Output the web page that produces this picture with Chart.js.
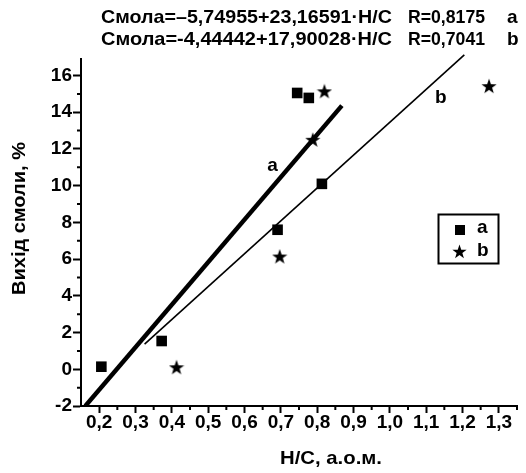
<!DOCTYPE html>
<html>
<head>
<meta charset="utf-8">
<script src="https://cdn.jsdelivr.net/npm/chart.js@4.4.1/dist/chart.umd.min.js"></script>
<style>
  html, body { margin: 0; padding: 0; background: #fff; }
  #wrap { width: 526px; height: 473px; }
</style>
</head>
<body>
<div id="wrap"><canvas id="chart" width="526" height="473"></canvas></div>
<script>
// measured points, series a (squares) and b (stars)
const aX = [0.206, 0.372, 0.691, 0.813, 0.745, 0.777];
const aY = [0.14, 1.54, 7.6, 10.1, 15.05, 14.78];
const bX = [0.413, 0.697, 0.788, 0.82, 1.273];
const bY = [0.11, 6.14, 12.5, 15.14, 15.42];

// regression lines as printed on the chart
const fitA = { b0: -5.74955, b1: 23.16591, r: "0,8175" };
const fitB = { b0: -4.44442, b1: 17.90028, r: "0,7041" };
const fitAX = [0.162, 0.868];
const fitBX = [0.325, 1.205];

const xTicks = [0.2, 0.3, 0.4, 0.5, 0.6, 0.7, 0.8, 0.9, 1.0, 1.1, 1.2, 1.3];
const yTicks = [-2, 0, 2, 4, 6, 8, 10, 12, 14, 16];

const FONT = "'Liberation Sans', Arial, sans-serif";

const toPts = (xs, ys) => xs.map((x, i) => ({ x: x, y: ys[i] }));
const fitPts = (fit, xs) => xs.map(x => ({ x: x, y: fit.b0 + fit.b1 * x }));
const comma = v => v.toFixed(1).replace(".", ",");
const fmtNum = v => String(v).replace(".", ",");

// filled five point star for series b
function makeStar(size) {
  const c = document.createElement("canvas");
  c.width = size; c.height = size;
  const g = c.getContext("2d");
  const cx = size / 2, cy = size / 2 + 0.6, ro = size / 2, ri = ro * 0.4;
  g.beginPath();
  for (let i = 0; i < 10; i++) {
    const r = i % 2 ? ri : ro;
    const a = -Math.PI / 2 + i * Math.PI / 5;
    g.lineTo(cx + r * Math.cos(a), cy + r * Math.sin(a));
  }
  g.closePath();
  g.fillStyle = "#000";
  g.fill();
  return c;
}
const star = makeStar(16);
const starSmall = makeStar(15);

// draw text stretched to a given width (the original font is a bit wide)
function fitText(ctx, text, x, y, w) {
  const m = ctx.measureText(text).width;
  ctx.save();
  ctx.translate(x, y);
  ctx.scale(w / m, 1);
  ctx.fillText(text, 0, 0);
  ctx.restore();
}

const extras = {
  id: "extras",
  afterDraw(chart) {
    const ctx = chart.ctx;
    const xs = chart.scales.x, ys = chart.scales.y;
    const area = chart.chartArea;
    ctx.save();
    ctx.fillStyle = "#000";
    ctx.strokeStyle = "#000";

    // minor ticks
    ctx.lineWidth = 2;
    ctx.beginPath();
    for (let i = 0; i < xTicks.length; i++) {
      const v = xTicks[i] + 0.05;
      if (v > xs.max + 1e-6) continue;
      const px = xs.getPixelForValue(v);
      ctx.moveTo(px, area.bottom);
      ctx.lineTo(px, area.bottom + 4);
    }
    for (let i = 0; i < yTicks.length; i++) {
      const v = yTicks[i] + 1;
      if (v > ys.max) continue;
      const py = ys.getPixelForValue(v);
      ctx.moveTo(area.left, py);
      ctx.lineTo(area.left - 4, py);
    }
    ctx.stroke();

    // header with the two fits
    ctx.font = "bold 19px " + FONT;
    ctx.textBaseline = "alphabetic";
    ctx.textAlign = "left";
    const eqA = "Смола=" + fmtNum(fitA.b0).replace("-", "–") + "+" + fmtNum(fitA.b1) + "·H/C";
    const eqB = "Смола=" + fmtNum(fitB.b0) + "+" + fmtNum(fitB.b1) + "·H/C";
    fitText(ctx, eqA, 101, 23, 291);
    fitText(ctx, eqB, 101, 45, 291);
    fitText(ctx, "R=" + fitA.r, 408, 23, 77);
    fitText(ctx, "R=" + fitB.r, 408, 45, 77);
    ctx.fillText("a", 507, 23);
    ctx.fillText("b", 507, 45);

    // axis titles
    ctx.textAlign = "left";
    ctx.textBaseline = "middle";
    fitText(ctx, "H/C, а.о.м.", 280, 459, 102);
    ctx.save();
    ctx.translate(20, 295);
    ctx.rotate(-Math.PI / 2);
    fitText(ctx, "Вихід смоли, %", 0, 0, 153);
    ctx.restore();

    // line labels
    ctx.textAlign = "center";
    ctx.fillText("a", xs.getPixelForValue(0.677), ys.getPixelForValue(11.1));
    ctx.fillText("b", xs.getPixelForValue(1.14), ys.getPixelForValue(14.8));

    // legend box
    ctx.lineWidth = 2;
    ctx.strokeRect(438.5, 214.5, 60, 49);
    ctx.fillRect(455, 225, 10, 10);
    ctx.drawImage(starSmall, 452, 244);
    ctx.textAlign = "left";
    ctx.fillText("a", 477, 228);
    ctx.fillText("b", 477, 251);
    ctx.restore();
  }
};

new Chart(document.getElementById("chart"), {
  type: "scatter",
  data: {
    datasets: [
      {
        label: "a",
        data: toPts(aX, aY),
        pointStyle: "rect",
        pointRadius: 7.5,
        backgroundColor: "#000",
        borderWidth: 0
      },
      {
        label: "b",
        data: toPts(bX, bY),
        pointStyle: star,
        pointRadius: 8,
        backgroundColor: "#000"
      },
      {
        label: "fit a",
        data: fitPts(fitA, fitAX),
        showLine: true,
        pointRadius: 0,
        borderColor: "#000",
        borderWidth: 4.5,
        borderCapStyle: "butt"
      },
      {
        label: "fit b",
        data: fitPts(fitB, fitBX),
        showLine: true,
        pointRadius: 0,
        borderColor: "#000",
        borderWidth: 1.6,
        clip: false
      }
    ]
  },
  options: {
    responsive: false,
    animation: false,
    events: [],
    layout: { padding: { top: 59, right: 5, left: 0, bottom: 0 } },
    plugins: { legend: { display: false }, tooltip: { enabled: false } },
    scales: {
      x: {
        type: "linear",
        min: 0.15,
        max: 1.35,
        afterBuildTicks: s => { s.ticks = xTicks.map(v => ({ value: v })); },
        afterFit: s => { s.height = 67; },
        border: { color: "#000", width: 2 },
        grid: { drawOnChartArea: false, drawTicks: true, tickLength: 7, tickWidth: 2, tickColor: "#000" },
        ticks: {
          color: "#000",
          padding: -2,
          maxRotation: 0,
          autoSkip: false,
          font: { family: FONT, size: 19, weight: "bold" },
          callback: v => comma(v)
        }
      },
      y: {
        type: "linear",
        min: -2,
        max: 16.9,
        afterBuildTicks: s => { s.ticks = yTicks.map(v => ({ value: v })); },
        afterFit: s => { s.width = 81; },
        border: { color: "#000", width: 2 },
        grid: { drawOnChartArea: false, drawTicks: true, tickLength: 8, tickWidth: 2, tickColor: "#000" },
        ticks: {
          color: "#000",
          padding: 1,
          autoSkip: false,
          font: { family: FONT, size: 19, weight: "bold" },
          callback: v => String(v)
        }
      }
    }
  },
  plugins: [extras]
});
</script>
</body>
</html>
